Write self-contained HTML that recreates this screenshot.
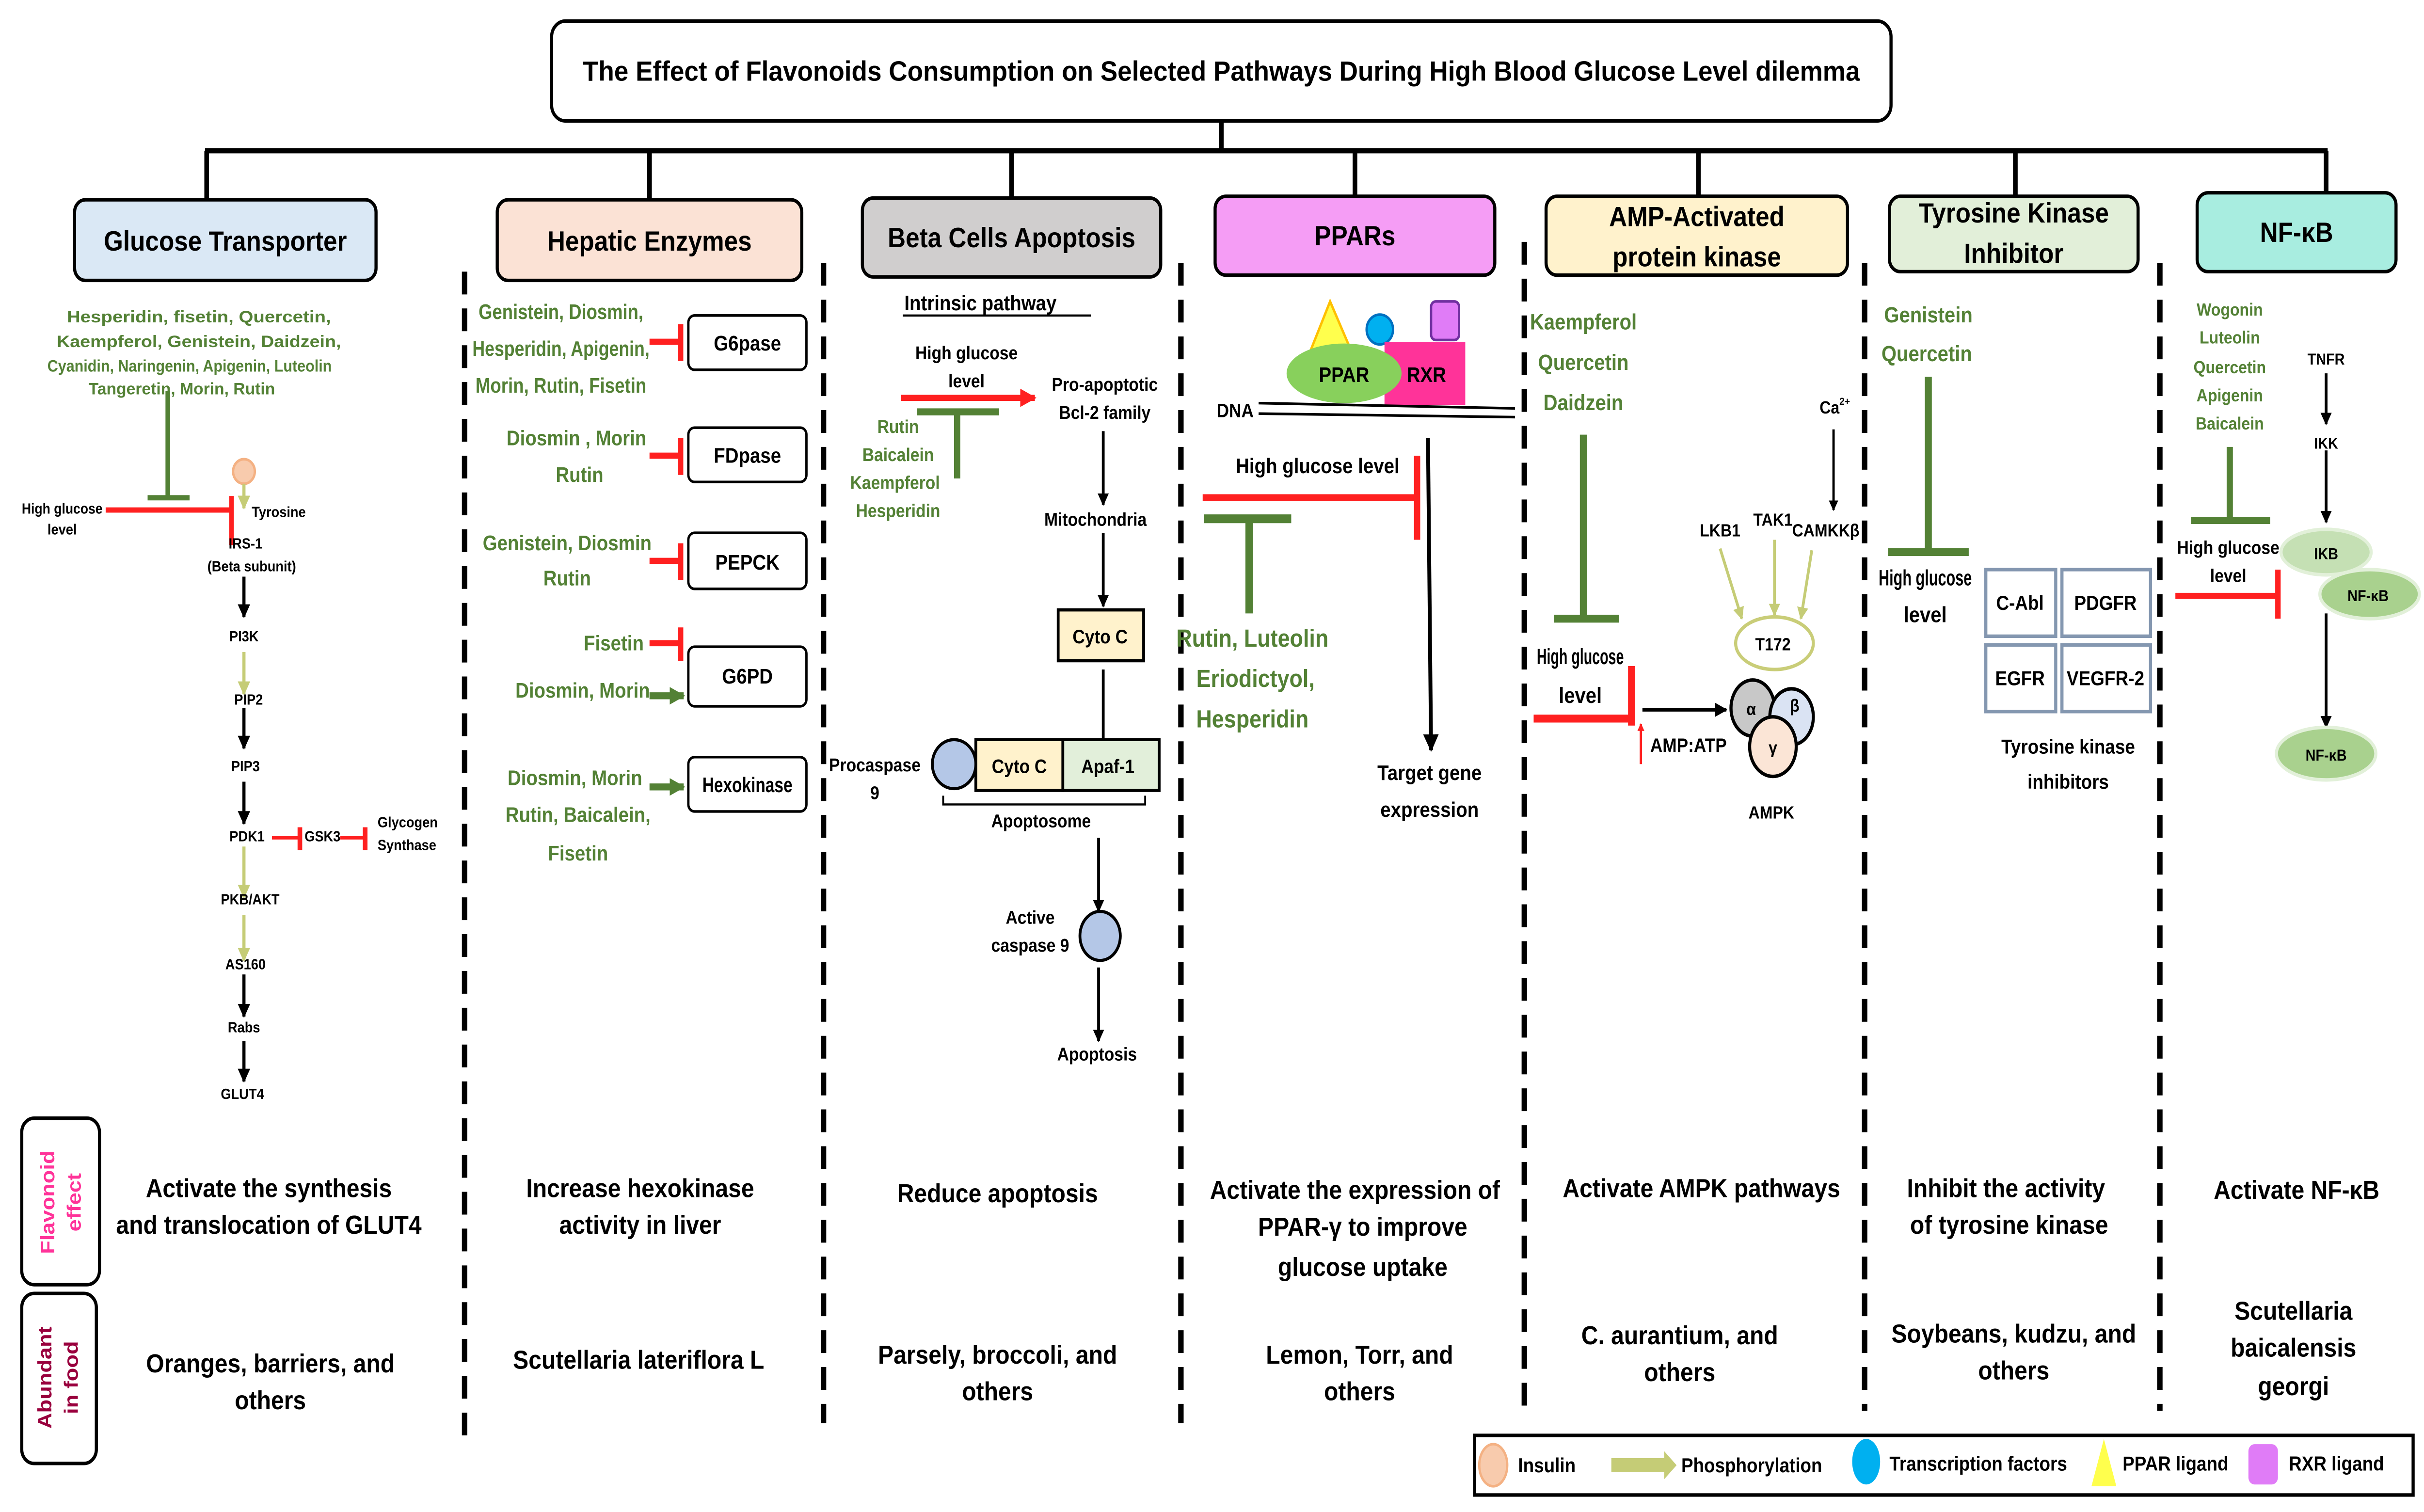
<!DOCTYPE html>
<html><head><meta charset="utf-8"><style>
html,body{margin:0;padding:0;background:#fff;overflow:hidden;width:100%;height:100%;}
svg{display:block;position:fixed;left:0;top:0;width:100vw;height:100vh;}
text{font-family:"Liberation Sans",sans-serif;font-weight:bold;}
</style></head><body>
<svg viewBox="0 0 1560 862.7" preserveAspectRatio="none" xmlns="http://www.w3.org/2000/svg">
<defs>
<marker id="ab" viewBox="0 0 10 10" refX="9" refY="5" markerWidth="4" markerHeight="4" orient="auto"><path d="M0,0L10,5L0,10z" fill="#000"/></marker>
<marker id="ao" viewBox="0 0 10 10" refX="9" refY="5" markerWidth="4" markerHeight="4" orient="auto"><path d="M0,0L10,5L0,10z" fill="#c5cc76"/></marker>
<marker id="ag" viewBox="0 0 10 10" refX="9" refY="5" markerWidth="2.5" markerHeight="2.5" orient="auto"><path d="M0,0L10,5L0,10z" fill="#538135"/></marker>
<marker id="ar" viewBox="0 0 10 10" refX="9" refY="5" markerWidth="3" markerHeight="3" orient="auto"><path d="M0,0L10,5L0,10z" fill="#ff2020"/></marker>
</defs>
<rect width="1560" height="863" fill="#fff"/>

<rect x="355" y="12" width="862" height="57" rx="9" fill="#fff" stroke="#000" stroke-width="2"/>
<text x="786" y="46" font-size="16" text-anchor="middle" textLength="822" lengthAdjust="spacingAndGlyphs">The Effect of Flavonoids Consumption  on Selected Pathways During High Blood Glucose Level dilemma</text>
<g stroke="#000" stroke-width="3" fill="none">
<line x1="786" y1="69" x2="786" y2="86"/>
<line x1="132" y1="86" x2="1498" y2="86"/>
<line x1="133" y1="86" x2="133" y2="114"/>
<line x1="418" y1="86" x2="418" y2="114"/>
<line x1="651" y1="86" x2="651" y2="113"/>
<line x1="872" y1="86" x2="872" y2="112"/>
<line x1="1093" y1="86" x2="1093" y2="112"/>
<line x1="1297" y1="86" x2="1297" y2="112"/>
<line x1="1497" y1="86" x2="1497" y2="110"/>
</g>

<g stroke="#000" stroke-width="2">
<rect x="48" y="114" width="194" height="46" rx="7" fill="#dae8f5"/>
<rect x="320" y="114" width="196" height="46" rx="7" fill="#fbe2d5"/>
<rect x="555" y="113" width="192" height="45" rx="7" fill="#d0cece"/>
<rect x="782" y="112" width="180" height="45" rx="7" fill="#f59df5"/>
<rect x="995" y="112" width="194" height="45" rx="7" fill="#fff2cc"/>
<rect x="1216" y="112" width="160" height="43" rx="7" fill="#e2efd9"/>
<rect x="1414" y="110" width="128" height="45" rx="7" fill="#a8ede0"/>
</g>
<g font-size="16" text-anchor="middle">
<text x="145" y="143">Glucose Transporter</text>
<text x="418" y="143">Hepatic Enzymes</text>
<text x="651" y="141">Beta Cells Apoptosis</text>
<text x="872" y="140">PPARs</text>
<text x="1092" y="129">AMP-Activated</text>
<text x="1092" y="152">protein kinase</text>
<text x="1296" y="127">Tyrosine Kinase</text>
<text x="1296" y="150">Inhibitor</text>
<text x="1478" y="138">NF-κB</text>
</g>

<g stroke="#000" stroke-width="3.5" stroke-dasharray="13 8">
<line x1="299" y1="155" x2="299" y2="820"/>
<line x1="530" y1="150" x2="530" y2="812"/>
<line x1="760" y1="150" x2="760" y2="812"/>
<line x1="981" y1="138" x2="981" y2="805"/>
<line x1="1200" y1="150" x2="1200" y2="805"/>
<line x1="1390" y1="150" x2="1390" y2="805"/>
</g>

<g fill="#538135" font-size="9.5" text-anchor="middle">
<text x="128" y="184" textLength="170" lengthAdjust="spacingAndGlyphs">Hesperidin, fisetin, Quercetin,</text>
<text x="128" y="198" textLength="183" lengthAdjust="spacingAndGlyphs">Kaempferol, Genistein, Daidzein,</text>
<text x="122" y="212" textLength="183" lengthAdjust="spacingAndGlyphs">Cyanidin, Naringenin, Apigenin, Luteolin</text>
<text x="117" y="225" textLength="120" lengthAdjust="spacingAndGlyphs">Tangeretin, Morin, Rutin</text>
</g>
<g stroke="#538135" stroke-width="3"><line x1="108" y1="223" x2="108" y2="284"/><line x1="95" y1="284" x2="122" y2="284"/></g>
<g font-size="8.5" text-anchor="middle"><text x="40" y="293" textLength="52" lengthAdjust="spacingAndGlyphs">High glucose</text><text x="40" y="305">level</text></g>
<g stroke="#ff2020" stroke-width="3"><line x1="68" y1="291" x2="148" y2="291"/><line x1="149" y1="283" x2="149" y2="311"/></g>
<circle cx="157" cy="269" r="7" fill="#f8cbad" stroke="#f4b183" stroke-width="1.5"/>
<g stroke-width="2" fill="none">
<line x1="157" y1="276" x2="157" y2="290" stroke="#c5cc76" marker-end="url(#ao)"/>
<line x1="157" y1="329" x2="157" y2="352" stroke="#000" marker-end="url(#ab)"/>
<line x1="157" y1="372" x2="157" y2="396" stroke="#c5cc76" marker-end="url(#ao)"/>
<line x1="157" y1="404" x2="157" y2="427" stroke="#000" marker-end="url(#ab)"/>
<line x1="157" y1="446" x2="157" y2="470" stroke="#000" marker-end="url(#ab)"/>
<line x1="157" y1="483" x2="157" y2="512" stroke="#c5cc76" marker-end="url(#ao)"/>
<line x1="157" y1="522" x2="157" y2="548" stroke="#c5cc76" marker-end="url(#ao)"/>
<line x1="157" y1="556" x2="157" y2="580" stroke="#000" marker-end="url(#ab)"/>
<line x1="157" y1="594" x2="157" y2="617" stroke="#000" marker-end="url(#ab)"/>
</g>
<g font-size="8.5">
<text x="162" y="295">Tyrosine</text>
<text x="158" y="313" text-anchor="middle">IRS-1</text>
<text x="162" y="326" text-anchor="middle">(Beta subunit)</text>
<text x="157" y="366" text-anchor="middle">PI3K</text>
<text x="160" y="402" text-anchor="middle">PIP2</text>
<text x="158" y="440" text-anchor="middle">PIP3</text>
<text x="159" y="480" text-anchor="middle">PDK1</text>
<text x="196" y="480">GSK3</text>
<text x="243" y="472">Glycogen</text>
<text x="243" y="485">Synthase</text>
<text x="161" y="516" text-anchor="middle">PKB/AKT</text>
<text x="158" y="553" text-anchor="middle">AS160</text>
<text x="157" y="589" text-anchor="middle">Rabs</text>
<text x="156" y="627" text-anchor="middle">GLUT4</text>
</g>
<g stroke="#ff2020" stroke-width="2"><line x1="175" y1="478" x2="192" y2="478"/><line x1="193" y1="472" x2="193" y2="485" stroke-width="3"/><line x1="219" y1="478" x2="234" y2="478"/><line x1="235" y1="472" x2="235" y2="485" stroke-width="3"/></g>

<g stroke="#000" stroke-width="1.5" fill="#fff">
<rect x="443" y="180" width="76" height="31" rx="4"/>
<rect x="443" y="244" width="76" height="31" rx="4"/>
<rect x="443" y="304" width="76" height="32" rx="4"/>
<rect x="443" y="369" width="76" height="34" rx="4"/>
<rect x="443" y="432" width="76" height="31" rx="4"/>
</g>
<g font-size="12" text-anchor="middle">
<text x="481" y="200">G6pase</text>
<text x="481" y="264">FDpase</text>
<text x="481" y="325">PEPCK</text>
<text x="481" y="390">G6PD</text>
<text x="481" y="452" textLength="58" lengthAdjust="spacingAndGlyphs">Hexokinase</text>
</g>
<g fill="#538135" font-size="12" text-anchor="middle">
<text x="361" y="182" textLength="106" lengthAdjust="spacingAndGlyphs">Genistein, Diosmin,</text>
<text x="361" y="203" textLength="114" lengthAdjust="spacingAndGlyphs">Hesperidin, Apigenin,</text>
<text x="361" y="224" textLength="110" lengthAdjust="spacingAndGlyphs">Morin, Rutin, Fisetin</text>
<text x="371" y="254">Diosmin , Morin</text>
<text x="373" y="275">Rutin</text>
<text x="365" y="314">Genistein, Diosmin</text>
<text x="365" y="334">Rutin</text>
<text x="395" y="371">Fisetin</text>
<text x="375" y="398">Diosmin, Morin</text>
<text x="370" y="448">Diosmin, Morin</text>
<text x="372" y="469">Rutin, Baicalein,</text>
<text x="372" y="491">Fisetin</text>
</g>
<g stroke="#ff2020" stroke-width="3.5">
<line x1="418" y1="195" x2="437" y2="195"/><line x1="438" y1="185" x2="438" y2="206"/>
<line x1="418" y1="260" x2="437" y2="260"/><line x1="438" y1="250" x2="438" y2="271"/>
<line x1="418" y1="320" x2="437" y2="320"/><line x1="438" y1="310" x2="438" y2="331"/>
<line x1="418" y1="367" x2="437" y2="367"/><line x1="438" y1="358" x2="438" y2="377"/>
</g>
<g stroke="#538135" stroke-width="4">
<line x1="418" y1="397" x2="440" y2="397" marker-end="url(#ag)"/>
<line x1="418" y1="449" x2="440" y2="449" marker-end="url(#ag)"/>
</g>

<text x="582" y="177" font-size="12">Intrinsic pathway</text>
<line x1="581" y1="180" x2="702" y2="180" stroke="#000" stroke-width="1.2"/>
<g font-size="10.5" text-anchor="middle">
<text x="622" y="205">High glucose</text><text x="622" y="221">level</text>
<text x="711" y="223">Pro-apoptotic</text><text x="711" y="239">Bcl-2 family</text>
<text x="705" y="300">Mitochondria</text>
<text x="563" y="440">Procaspase</text><text x="563" y="456">9</text>
<text x="670" y="472">Apoptosome</text>
<text x="663" y="527">Active</text><text x="663" y="543">caspase 9</text>
<text x="706" y="605">Apoptosis</text>
</g>
<line x1="580" y1="227" x2="666" y2="227" stroke="#ff2020" stroke-width="3.5" marker-end="url(#ar)"/>
<g stroke="#538135" stroke-width="4"><line x1="590" y1="235" x2="643" y2="235"/><line x1="616" y1="235" x2="616" y2="273"/></g>
<g fill="#538135" font-size="10.5" text-anchor="middle">
<text x="578" y="247">Rutin</text><text x="578" y="263">Baicalein</text><text x="576" y="279">Kaempferol</text><text x="578" y="295">Hesperidin</text>
</g>
<g stroke="#000" stroke-width="1.8">
<line x1="710" y1="246" x2="710" y2="288" marker-end="url(#ab)"/>
<line x1="710" y1="304" x2="710" y2="346" marker-end="url(#ab)"/>
<line x1="710" y1="382" x2="710" y2="428" marker-end="url(#ab)"/>
<line x1="707" y1="478" x2="707" y2="520" marker-end="url(#ab)"/>
<line x1="707" y1="552" x2="707" y2="594" marker-end="url(#ab)"/>
</g>
<rect x="681" y="348" width="55" height="29" fill="#fff2cc" stroke="#000" stroke-width="1.8"/>
<rect x="628" y="422" width="56" height="29" fill="#fff2cc" stroke="#000" stroke-width="1.8"/>
<rect x="684" y="422" width="62" height="29" fill="#e2efda" stroke="#000" stroke-width="1.8"/>
<g font-size="11" text-anchor="middle"><text x="708" y="367">Cyto C</text><text x="656" y="441">Cyto C</text><text x="713" y="441">Apaf-1</text></g>
<ellipse cx="614" cy="436" rx="14" ry="14" fill="#b4c7e7" stroke="#000" stroke-width="1.8"/>
<ellipse cx="708" cy="534" rx="13" ry="14" fill="#b4c7e7" stroke="#000" stroke-width="1.8"/>
<path d="M607,454 V459 H737 V454" fill="none" stroke="#000" stroke-width="1.2"/>

<polygon points="856,172 843,201 870,201" fill="#ffff4d" stroke="#ffc000" stroke-width="1.5"/>
<circle cx="888" cy="188" r="8.5" fill="#00b0f0" stroke="#0070c0" stroke-width="1.5"/>
<rect x="921" y="172" width="18" height="22" rx="3" fill="#e07cf7" stroke="#7030a0" stroke-width="1.5"/>
<rect x="891" y="195" width="52" height="36" fill="#ff3399"/>
<ellipse cx="865" cy="213" rx="37" ry="17" fill="#88d05c"/>
<g font-size="12" text-anchor="middle"><text x="865" y="218">PPAR</text><text x="918" y="218">RXR</text></g>
<text x="783" y="238" font-size="11">DNA</text>
<g stroke="#000" stroke-width="1.5"><line x1="810" y1="230" x2="975" y2="233"/><line x1="810" y1="236" x2="975" y2="238"/></g>
<text x="848" y="270" font-size="12" text-anchor="middle">High glucose level</text>
<g stroke="#ff2020" stroke-width="4"><line x1="774" y1="284" x2="911" y2="284"/><line x1="912" y1="260" x2="912" y2="308"/></g>
<g stroke="#538135" stroke-width="5"><line x1="775" y1="296" x2="831" y2="296"/><line x1="804" y1="296" x2="804" y2="350"/></g>
<g fill="#538135" font-size="14" text-anchor="middle">
<text x="806" y="369">Rutin, Luteolin</text><text x="808" y="392">Eriodictyol,</text><text x="806" y="415">Hesperidin</text>
</g>
<line x1="919" y1="250" x2="921" y2="428" stroke="#000" stroke-width="2.5" marker-end="url(#ab)"/>
<g font-size="12" text-anchor="middle"><text x="920" y="445">Target gene</text><text x="920" y="466">expression</text></g>

<g fill="#538135" font-size="12.5" text-anchor="middle">
<text x="1019" y="188">Kaempferol</text><text x="1019" y="211">Quercetin</text><text x="1019" y="234">Daidzein</text>
</g>
<g stroke="#538135" stroke-width="4.5"><line x1="1019" y1="248" x2="1019" y2="353"/><line x1="1000" y1="353" x2="1042" y2="353"/></g>
<g font-size="12.5" text-anchor="middle"><text x="1017" y="379" textLength="56" lengthAdjust="spacingAndGlyphs">High glucose</text><text x="1017" y="401">level</text></g>
<g stroke="#ff2020" stroke-width="4.5"><line x1="987" y1="410" x2="1049" y2="410"/><line x1="1050" y1="380" x2="1050" y2="414"/></g>
<line x1="1057" y1="405" x2="1111" y2="405" stroke="#000" stroke-width="2" marker-end="url(#ab)"/>
<line x1="1056" y1="436" x2="1056" y2="413" stroke="#ff2020" stroke-width="1.5" marker-end="url(#ar)"/>
<text x="1062" y="429" font-size="11">AMP:ATP</text>
<text x="1171" y="236" font-size="10">Ca<tspan font-size="6" dy="-5">2+</tspan></text>
<line x1="1180" y1="245" x2="1180" y2="291" stroke="#000" stroke-width="1.5" marker-end="url(#ab)"/>
<g font-size="10" text-anchor="middle"><text x="1107" y="306">LKB1</text><text x="1141" y="300">TAK1</text><text x="1175" y="306">CAMKKβ</text><text x="1140" y="467">AMPK</text></g>
<g stroke="#c5cc76" stroke-width="1.8">
<line x1="1107" y1="313" x2="1121" y2="353" marker-end="url(#ao)"/>
<line x1="1142" y1="308" x2="1142" y2="351" marker-end="url(#ao)"/>
<line x1="1166" y1="314" x2="1159" y2="353" marker-end="url(#ao)"/>
</g>
<ellipse cx="1142" cy="367" rx="25" ry="15" fill="#fff" stroke="#c9cd78" stroke-width="2"/>
<text x="1141" y="371" font-size="10" text-anchor="middle">T172</text>
<g stroke="#000" stroke-width="2">
<ellipse cx="1128" cy="404" rx="14" ry="16" fill="#c8c8c8"/>
<ellipse cx="1153" cy="409" rx="14" ry="16" fill="#dae3f3"/>
<ellipse cx="1141" cy="426" rx="15" ry="17" fill="#fbe5d6"/>
</g>
<g font-size="10" text-anchor="middle" font-weight="normal"><text x="1127" y="408">α</text><text x="1155" y="406">β</text><text x="1141" y="430">γ</text></g>

<g fill="#538135" font-size="12.5" text-anchor="middle"><text x="1241" y="184">Genistein</text><text x="1240" y="206">Quercetin</text></g>
<g stroke="#538135" stroke-width="4.5"><line x1="1241" y1="215" x2="1241" y2="315"/><line x1="1215" y1="315" x2="1267" y2="315"/></g>
<g font-size="12.5" text-anchor="middle"><text x="1239" y="334" textLength="60" lengthAdjust="spacingAndGlyphs">High glucose</text><text x="1239" y="355">level</text></g>
<g stroke="#8497b0" stroke-width="2" fill="#fff">
<rect x="1278" y="325" width="45" height="38"/><rect x="1327" y="325" width="57" height="38"/>
<rect x="1278" y="368" width="45" height="38"/><rect x="1327" y="368" width="57" height="38"/>
</g>
<g font-size="11.5" text-anchor="middle"><text x="1300" y="348">C-Abl</text><text x="1355" y="348">PDGFR</text><text x="1300" y="391">EGFR</text><text x="1355" y="391" textLength="50" lengthAdjust="spacingAndGlyphs">VEGFR-2</text></g>
<g font-size="11.5" text-anchor="middle" font-weight="normal"><text x="1331" y="430">Tyrosine kinase</text><text x="1331" y="450">inhibitors</text></g>

<g fill="#538135" font-size="10" text-anchor="middle">
<text x="1435" y="180">Wogonin</text><text x="1435" y="196">Luteolin</text><text x="1435" y="213">Quercetin</text><text x="1435" y="229">Apigenin</text><text x="1435" y="245">Baicalein</text>
</g>
<g stroke="#538135" stroke-width="4"><line x1="1435" y1="255" x2="1435" y2="297"/><line x1="1410" y1="297" x2="1461" y2="297"/></g>
<g font-size="10.5" text-anchor="middle"><text x="1434" y="316">High glucose</text><text x="1434" y="332">level</text></g>
<g stroke="#ff2020" stroke-width="3.5"><line x1="1400" y1="340" x2="1465" y2="340"/><line x1="1466" y1="325" x2="1466" y2="353"/></g>
<g font-size="9" text-anchor="middle"><text x="1497" y="208">TNFR</text><text x="1497" y="256">IKK</text></g>
<g stroke="#000" stroke-width="1.8">
<line x1="1497" y1="213" x2="1497" y2="242" marker-end="url(#ab)"/>
<line x1="1497" y1="257" x2="1497" y2="298" marker-end="url(#ab)"/>
<line x1="1497" y1="350" x2="1497" y2="415" marker-end="url(#ab)"/>
</g>
<ellipse cx="1497" cy="315" rx="29" ry="13" fill="#c5e0b4" stroke="#e2f0d9" stroke-width="2"/>
<ellipse cx="1525" cy="339" rx="32" ry="14" fill="#a9d18e" stroke="#e2f0d9" stroke-width="2"/>
<ellipse cx="1497" cy="430" rx="32" ry="15" fill="#a9d18e" stroke="#e2f0d9" stroke-width="2"/>
<g font-size="9" text-anchor="middle"><text x="1497" y="319">IKB</text><text x="1524" y="343">NF-κB</text><text x="1497" y="434">NF-κB</text></g>

<rect x="14" y="638" width="50" height="95" rx="8" fill="#fff" stroke="#000" stroke-width="2"/>
<rect x="14" y="738" width="48" height="97" rx="8" fill="#fff" stroke="#000" stroke-width="2"/>
<g font-size="12.5" text-anchor="middle" font-weight="normal">
<text transform="translate(35,686) rotate(-90)" fill="#ff3399">Flavonoid</text>
<text transform="translate(52,686) rotate(-90)" fill="#ff3399">effect</text>
<text transform="translate(33,786) rotate(-90)" fill="#99003d">Abundant</text>
<text transform="translate(50,786) rotate(-90)" fill="#99003d">in food</text>
</g>
<g font-size="15" text-anchor="middle">
<text x="173" y="683">Activate the synthesis</text>
<text x="173" y="704">and translocation of GLUT4</text>
<text x="412" y="683">Increase hexokinase</text>
<text x="412" y="704">activity in liver</text>
<text x="642" y="686">Reduce apoptosis</text>
<text x="872" y="684">Activate the expression of</text>
<text x="877" y="705">PPAR-γ to improve</text>
<text x="877" y="728">glucose uptake</text>
<text x="1095" y="683">Activate AMPK pathways</text>
<text x="1291" y="683">Inhibit the activity</text>
<text x="1293" y="704">of tyrosine kinase</text>
<text x="1478" y="684">Activate NF-κB</text>
<text x="174" y="783">Oranges, barriers, and</text>
<text x="174" y="804">others</text>
<text x="411" y="781">Scutellaria lateriflora L</text>
<text x="642" y="778">Parsely, broccoli, and</text>
<text x="642" y="799">others</text>
<text x="875" y="778">Lemon, Torr, and</text>
<text x="875" y="799">others</text>
<text x="1081" y="767">C. aurantium, and</text>
<text x="1081" y="788">others</text>
<text x="1296" y="766">Soybeans, kudzu, and</text>
<text x="1296" y="787">others</text>
<text x="1476" y="753">Scutellaria</text>
<text x="1476" y="774">baicalensis</text>
<text x="1476" y="796">georgi</text>
</g>

<rect x="949" y="819" width="604" height="34" fill="#fff" stroke="#000" stroke-width="2"/>
<ellipse cx="961" cy="836" rx="9" ry="12" fill="#f8cbad" stroke="#f4b183" stroke-width="1.5"/>
<polygon points="1037,832 1071,832 1071,828 1079,836 1071,844 1071,840 1037,840" fill="#c5cc76"/>
<ellipse cx="1201" cy="834" rx="9" ry="13" fill="#00b0f0"/>
<polygon points="1354,821 1346,848 1362,848" fill="#ffff4d"/>
<rect x="1447" y="824" width="19" height="23" rx="4" fill="#e07cf7"/>
<g font-size="11.5" font-weight="normal">
<text x="977" y="840">Insulin</text>
<text x="1082" y="840">Phosphorylation</text>
<text x="1216" y="839">Transcription factors</text>
<text x="1366" y="839">PPAR ligand</text>
<text x="1473" y="839">RXR ligand</text>
</g>
</svg>
</body></html>
